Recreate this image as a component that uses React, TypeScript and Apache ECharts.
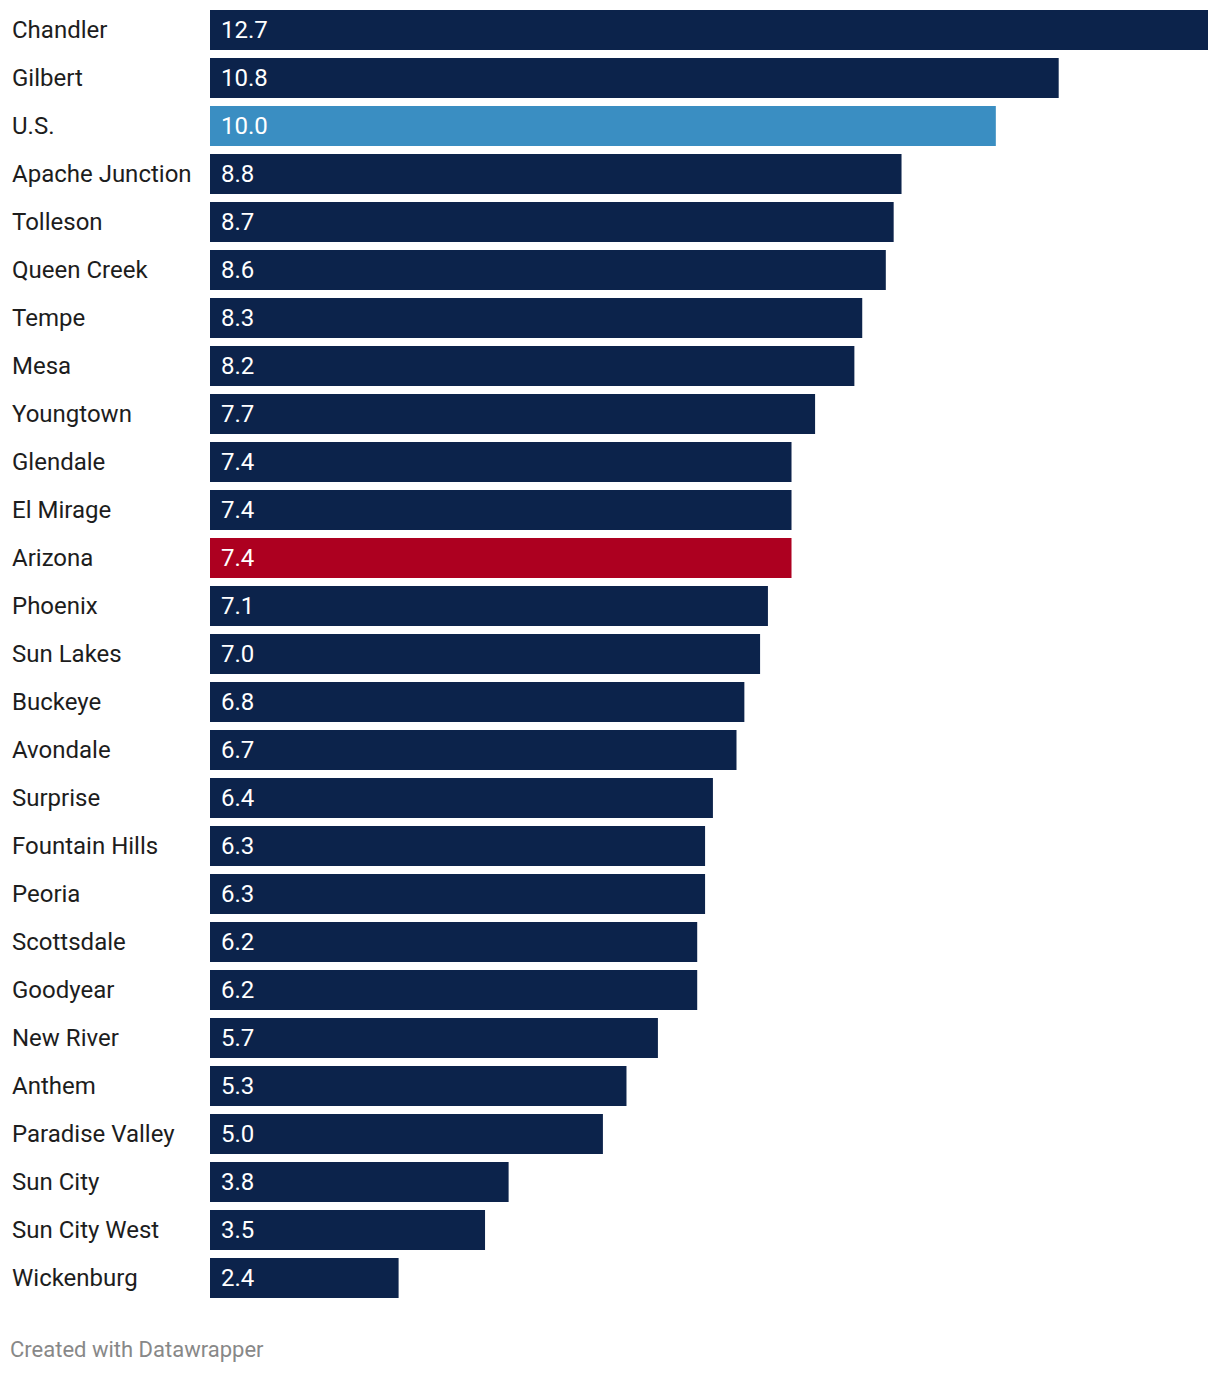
import React, { useEffect, useRef } from "react";
import * as echarts from "echarts";

const categories = [
  "Chandler", "Gilbert", "U.S.", "Apache Junction", "Tolleson", "Queen Creek", "Tempe", "Mesa",
  "Youngtown", "Glendale", "El Mirage", "Arizona", "Phoenix", "Sun Lakes", "Buckeye", "Avondale",
  "Surprise", "Fountain Hills", "Peoria", "Scottsdale", "Goodyear", "New River", "Anthem",
  "Paradise Valley", "Sun City", "Sun City West", "Wickenburg",
];
const values = [
  12.7, 10.8, 10.0, 8.8, 8.7, 8.6, 8.3, 8.2, 7.7, 7.4, 7.4, 7.4, 7.1, 7.0, 6.8, 6.7, 6.4, 6.3, 6.3,
  6.2, 6.2, 5.7, 5.3, 5.0, 3.8, 3.5, 2.4,
];
const highlight: Record<string, string> = { "U.S.": "#3a8ec2", Arizona: "#ad0020" };
const baseColor = "#0c234b";
const footer = "Created with Datawrapper";

export default function App() {
  const ref = useRef<HTMLDivElement>(null);
  useEffect(() => {
    if (!ref.current) return;
    const chart = echarts.init(ref.current, null, { renderer: "svg" });
    chart.setOption({
      animation: false,
      textStyle: { fontFamily: "Roboto" },
      grid: { left: 210, top: 6, width: 998, height: 1296, containLabel: false },
      xAxis: { type: "value", min: 0, max: 12.7, show: false },
      yAxis: {
        type: "category",
        data: categories,
        inverse: true,
        axisLine: { show: false },
        axisTick: { show: false },
        axisLabel: { align: "left", margin: 198, color: "#1d1d1d", fontSize: 24, fontFamily: "Roboto" },
      },
      series: [
        {
          type: "bar",
          barCategoryGap: "16.667%",
          data: values.map((v, i) => ({
            value: v,
            itemStyle: { color: highlight[categories[i]] || baseColor },
          })),
          label: {
            show: true,
            position: "insideLeft",
            distance: 11,
            color: "#ffffff",
            fontSize: 24,
            fontFamily: "Roboto",
            formatter: (p: any) => Number(p.value).toFixed(1),
          },
        },
      ],
      graphic: [
        {
          type: "text",
          left: 10,
          top: 1338,
          style: { text: footer, fill: "#888888", fontSize: 22, fontFamily: "Roboto" },
        },
      ],
    });
    return () => chart.dispose();
  }, []);
  return (
    <div
      ref={ref}
      style={{ position: "absolute", left: 0, top: 0, width: 1220, height: 1374, background: "#fff" }}
    />
  );
}
